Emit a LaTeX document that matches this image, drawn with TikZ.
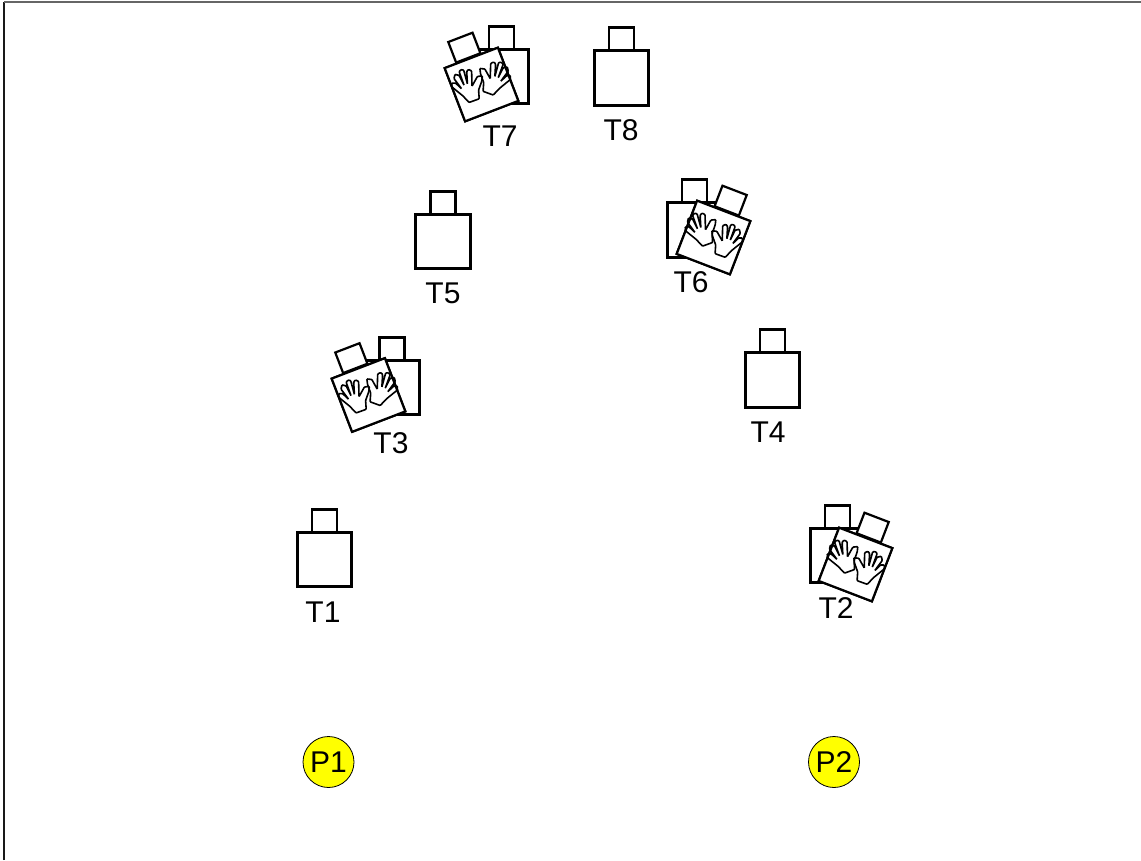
\documentclass[tikz,border=0pt]{standalone}
\usepackage{fontspec}
\setmainfont{Liberation Sans}
\usetikzlibrary{positioning}
\definecolor{pureyellow}{RGB}{255,255,0}

\begin{document}
\begin{tikzpicture}[
    x=1pt, y=-1pt,
    body/.style={
        rectangle,
        draw,
        fill=white,
        line width=3pt,
        inner sep=0pt,
        outer sep=0pt,
        minimum width=54.5pt,
        minimum height=54.5pt
    },
    head/.style={
        rectangle,
        draw,
        fill=white,
        line width=2.6pt,
        inner sep=0pt,
        outer sep=0pt,
        minimum width=25pt,
        minimum height=23pt
    },
    flag/.style={
        head,
        line width=2.2pt,
        anchor=south,
        minimum width=26pt,
        minimum height=22pt
    },
    card/.style={
        rectangle,
        draw,
        fill=white,
        line width=2.2pt,
        inner sep=0pt,
        outer sep=0pt,
        minimum width=57pt,
        minimum height=57pt
    },
    tag/.style={
        font=\fontsize{30}{32}\selectfont,
        inner sep=0pt
    },
    player/.style={
        circle,
        draw,
        fill=pureyellow,
        line width=0.8pt,
        inner sep=0pt,
        minimum size=51pt,
        font=\fontsize{30}{32}\selectfont
    },
    hand/.pic={
        \draw[line width=1.6pt, rounded corners=0.8pt, scale=1.2]
            (-4,12) -- (-7,5) -- (-13,-5) -- (-12,-8) -- (-9,-7) -- (-6,-1)
            -- (-9,-11) -- (-7,-14) -- (-4,-12) -- (-3,-3)
            -- (-3,-15) -- (-1,-16) -- (1,-15) -- (0,-3)
            -- (3,-13) -- (5,-14) -- (7,-12) -- (3,0)
            -- (10,-6) -- (14,-5) -- (12,-1) -- (7,5) -- (5,12) -- cycle;
    },
    hands/.pic={
        \pic[rotate=20] at (-13,-2) {hand};
        \pic[xscale=-1, rotate=20] at (13,0) {hand};
    }
]

\useasboundingbox (0,0) rectangle (1141,860);

% frame
\coordinate (frameBL) at (4,860);
\coordinate (frameTL) at (4,2);
\coordinate (frameTR) at (1141,2);
\draw[line width=2.4pt, black!90] (frameBL) -- (frameTL);
\draw[line width=1.4pt, black!60] (frameTL) -- (frameTR);

% targets
\node[body] (bodyT1) at (324.5,559.5) {};
\node[head, above=0pt of bodyT1] (headT1) {};
\node[tag] (labelT1) at (323,612) {T1};

\node[body] (bodyT2) at (837.5,555.5) {};
\node[head, above=0pt of bodyT2] (headT2) {};
\coordinate (centerT2) at (855.5,564.5);
\node[card, rotate=-21] (backT2) at (centerT2) {};
\node[flag, rotate=-21] (flagT2) at ([xshift=3pt]backT2.north) {};
\node[card, rotate=-21] (cardT2) at (centerT2) {};
\pic[rotate=-21] at (cardT2) {hands};
\node[tag] (labelT2) at (836,608) {T2};

\node[body] (bodyT3) at (392,387.5) {};
\node[head, above=0pt of bodyT3] (headT3) {};
\coordinate (centerT3) at (368.5,395);
\node[card, rotate=21] (backT3) at (centerT3) {};
\node[flag, rotate=21] (flagT3) at ([xshift=-3pt]backT3.north) {};
\node[card, rotate=21] (cardT3) at (centerT3) {};
\pic[rotate=21] at (cardT3) {hands};
\node[tag] (labelT3) at (391,443) {T3};

\node[body] (bodyT4) at (772.5,380) {};
\node[head, above=0pt of bodyT4] (headT4) {};
\node[tag] (labelT4) at (768,432) {T4};

\node[body] (bodyT5) at (443,241.5) {};
\node[head, above=0pt of bodyT5] (headT5) {};
\node[tag] (labelT5) at (443,293) {T5};

\node[body] (bodyT6) at (694.5,230) {};
\node[head, above=0pt of bodyT6] (headT6) {};
\coordinate (centerT6) at (713.5,237.5);
\node[card, rotate=-21] (backT6) at (centerT6) {};
\node[flag, rotate=-21] (flagT6) at ([xshift=3pt]backT6.north) {};
\node[card, rotate=-21] (cardT6) at (centerT6) {};
\pic[rotate=-21] at (cardT6) {hands};
\node[tag] (labelT6) at (691,282) {T6};

\node[body] (bodyT7) at (501.5,76.5) {};
\node[head, above=0pt of bodyT7] (headT7) {};
\coordinate (centerT7) at (481.5,84.5);
\node[card, rotate=21] (backT7) at (centerT7) {};
\node[flag, rotate=21] (flagT7) at ([xshift=-3pt]backT7.north) {};
\node[card, rotate=21] (cardT7) at (centerT7) {};
\pic[rotate=21] at (cardT7) {hands};
\node[tag] (labelT7) at (500,136) {T7};

\node[body] (bodyT8) at (621.5,78) {};
\node[head, above=0pt of bodyT8] (headT8) {};
\node[tag] (labelT8) at (621,130) {T8};

% players
\node[player] (P1) at (328.5,762) {P1};
\node[player] (P2) at (834,762) {P2};

\end{tikzpicture}
\end{document}
